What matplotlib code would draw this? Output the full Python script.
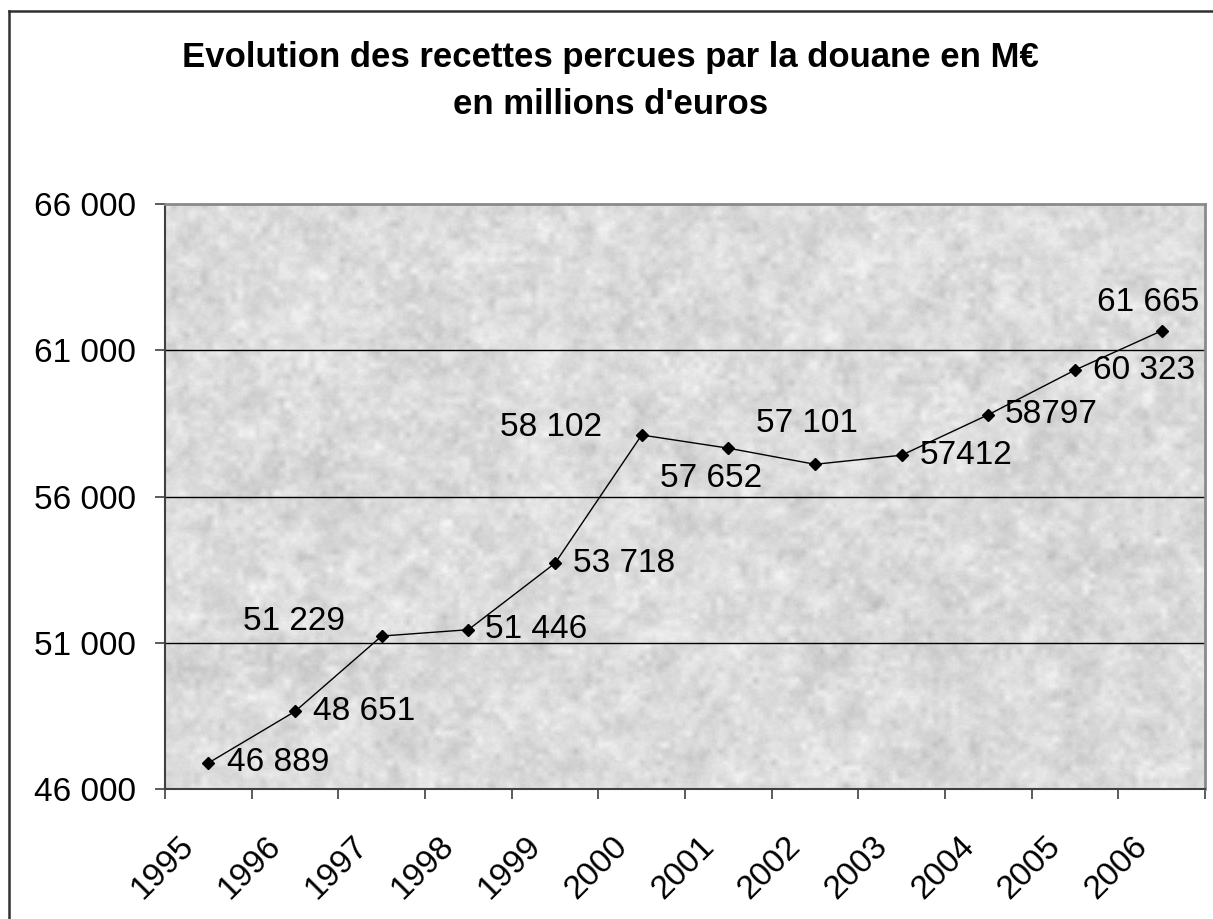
import numpy as np
import matplotlib
matplotlib.use("Agg")
import matplotlib.pyplot as plt
from matplotlib.lines import Line2D
from matplotlib.transforms import ScaledTranslation

plt.rcParams['font.family'] = ['Liberation Sans', 'DejaVu Sans']

# donnees
annees = ['1995', '1996', '1997', '1998', '1999', '2000',
          '2001', '2002', '2003', '2004', '2005', '2006']
recettes = [46889, 48651, 51229, 51446, 53718, 58102,
            57652, 57101, 57412, 58797, 60323, 61665]
etiquettes = ['46 889', '48 651', '51 229', '51 446', '53 718', '58 102',
              '57 652', '57 101', '57412', '58797', '60 323', '61 665']
y_ticks = [46000, 51000, 56000, 61000, 66000]

# placement des etiquettes (decalage en pixels, alignement)
decalages = [(19, 0, 'left'), (18, 0, 'left'), (-37, 15, 'right'), (17, 0, 'left'),
             (18, 0, 'left'), (-40, 8, 'right'), (-17, -30, 'center'), (-8, 41, 'center'),
             (18, 0, 'left'), (16, 0, 'left'), (18, 0, 'left'), (-14, 28, 'center')]

W, H = 1213, 919
fig = plt.figure(figsize=(W / 100, H / 100), dpi=100)
fig.patch.set_facecolor('white')

# cadre du graphique
fig.add_artist(Line2D([9 / W, 9 / W], [1 - 11 / H, 0], transform=fig.transFigure,
                      color='#303030', lw=1.8))
fig.add_artist(Line2D([9 / W, 1], [1 - 11 / H, 1 - 11 / H], transform=fig.transFigure,
                      color='#303030', lw=1.8))

ax = fig.add_axes([165 / W, 1 - 789 / H, (1205 - 165) / W, (789 - 204) / H])

n = len(annees)
x = np.arange(n)
ax.set_xlim(-0.5, n - 0.5)
ax.set_ylim(46000, 66000)

# fond texture (marbre gris)
rng = np.random.default_rng(3)
tex = np.zeros((300, 520))
for s, w in [(3, 1.0), (8, 0.8), (25, 0.45)]:
    small = rng.standard_normal((300 // s + 2, 520 // s + 2))
    big = np.kron(small, np.ones((s, s)))[:300, :520]
    k = np.ones(s) / s
    big = np.apply_along_axis(lambda r: np.convolve(r, k, mode='same'), 1, big)
    big = np.apply_along_axis(lambda c: np.convolve(c, k, mode='same'), 0, big)
    tex += w * big / big.std()
tex += 0.5 * rng.standard_normal(tex.shape)
tex = (tex - tex.mean()) / tex.std()
tex = np.clip(0.86 + 0.028 * tex, 0.74, 0.95)
ax.imshow(tex, cmap='gray', vmin=0, vmax=1, extent=(-0.5, n - 0.5, 46000, 66000),
          aspect='auto', interpolation='bilinear', zorder=0)

for g in y_ticks[1:-1]:
    ax.axhline(g, color='black', lw=1.0, zorder=1)

ax.plot(x, recettes, color='black', lw=1.0, marker='D', markersize=6,
        markerfacecolor='black', markeredgecolor='black', zorder=3)

for xi, yi, lab, (dx, dy, ha) in zip(x, recettes, etiquettes, decalages):
    ax.annotate(lab, (xi, yi), xytext=(dx, dy), textcoords='offset pixels',
                ha=ha, va='center', fontsize=24, color='black', zorder=4)

# axes
ax.set_yticks(y_ticks)
ax.set_yticklabels([f"{v:,}".replace(',', ' ') for v in y_ticks])
ax.set_xticks(x)
ax.set_xticklabels(annees, rotation=45, ha='right', va='center', rotation_mode='anchor')
ax.set_xticks(np.arange(-0.5, n), minor=True)
ax.tick_params(axis='x', which='major', length=0, pad=38, labelsize=24)
ax.tick_params(axis='x', which='minor', length=7, width=1.2, color='#404040')
ax.tick_params(axis='y', length=7, width=1.2, color='#404040', pad=14, labelsize=24)
decal = ScaledTranslation(-19 / 100, 0, fig.dpi_scale_trans)
for lab in ax.get_xticklabels():
    lab.set_transform(lab.get_transform() + decal)

for side in ['left', 'bottom']:
    ax.spines[side].set_color('#404040')
    ax.spines[side].set_linewidth(1.5)
for side in ['top', 'right']:
    ax.spines[side].set_color('#8a8a8a')
    ax.spines[side].set_linewidth(2)

fig.text(0.503, 1 - 81 / H, "Evolution des recettes percues par la douane en M€\nen millions d'euros",
         ha='center', va='center', fontsize=25, fontweight='bold', linespacing=1.5)

fig.savefig('out.png', dpi=100)
